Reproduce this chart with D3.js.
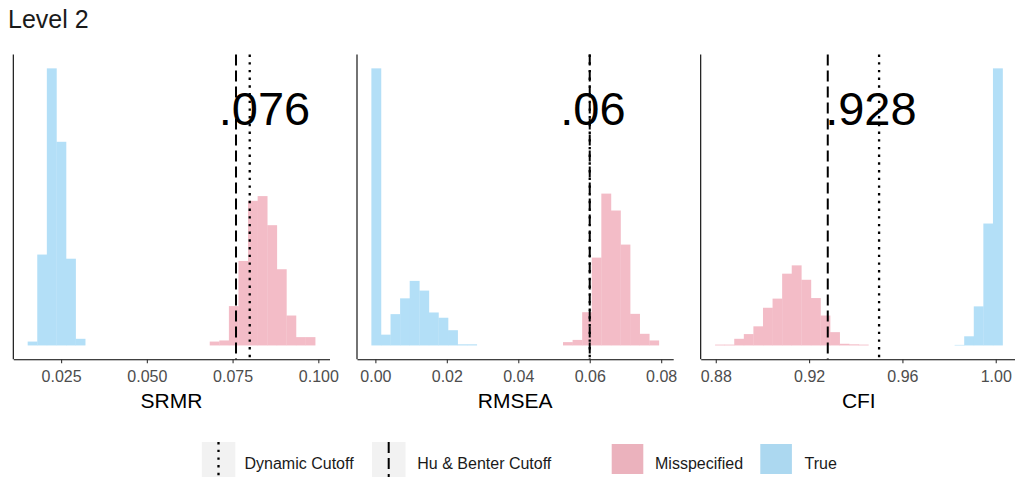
<!DOCTYPE html>
<html>
<head>
<meta charset="utf-8">
<script src="https://cdn.jsdelivr.net/npm/d3@7"></script>
<style>
  body { margin: 0; background: #fff; }
  svg { display: block; font-family: "Liberation Sans", Arial, sans-serif; }
</style>
</head>
<body>
<script>
// Histogramas de índices de ajuste (Level 2): 30 bins por panel
const panelNames = ["SRMR", "RMSEA", "CFI"];
const binStart = [0.01525, -0.00112, 0.8797];
const binWidth = [0.002794, 0.002682, 0.004107];

const srmrTrue = [14, 328, 1000, 735, 313, 24, 0, 0, 0, 0, 0, 0, 0, 0, 0,
  0, 0, 0, 0, 0, 0, 0, 0, 0, 0, 0, 0, 0, 0, 0];
const srmrMisspecified = [0, 0, 0, 0, 0, 0, 0, 0, 0, 0, 0, 0, 0, 0, 0,
  0, 0, 0, 0, 14, 18, 142, 305, 522, 539, 434, 275, 108, 30, 30];
const rmseaTrue = [1000, 39, 113, 170, 233, 198, 119, 100, 55, 4, 4, 0, 0, 0, 0,
  0, 0, 0, 0, 0, 0, 0, 0, 0, 0, 0, 0, 0, 0, 0];
const rmseaMisspecified = [0, 0, 0, 0, 0, 0, 0, 0, 0, 0, 0, 0, 0, 0, 0,
  0, 0, 0, 0, 0, 12, 20, 120, 317, 548, 487, 364, 114, 42, 18];
const cfiTrue = [0, 0, 0, 0, 0, 0, 0, 0, 0, 0, 0, 0, 0, 0, 0,
  0, 0, 0, 0, 0, 0, 0, 0, 0, 0, 2, 33, 141, 440, 1000];
const cfiMisspecified = [3, 3, 24, 41, 69, 136, 169, 259, 289, 237, 171, 108, 48, 6, 4,
  3, 0, 0, 0, 0, 0, 0, 0, 0, 0, 0, 0, 0, 0, 0];

const trueCounts = [srmrTrue, rmseaTrue, cfiTrue];
const misCounts = [srmrMisspecified, rmseaMisspecified, cfiMisspecified];

// cortes (dotted = "Dynamic Cutoff", dashed = "Hu & Benter Cutoff", como en la leyenda)
const dynamicCutoff = [0.08, 0.06, 0.95];
const huBenterCutoff = [0.076, 0.06, 0.928];
const cutoffLabels = [".076", ".06", ".928"];
const cutoffLabelX = [0.0843, 0.0609, 0.9465];

const tickValues = [
  [0.025, 0.050, 0.075, 0.100],
  [0.00, 0.02, 0.04, 0.06, 0.08],
  [0.88, 0.92, 0.96, 1.00]
];
const tickFormats = [d3.format(".3f"), d3.format(".2f"), d3.format(".2f")];

const legendLines = ["Dynamic Cutoff", "Hu & Benter Cutoff"];
const legendFills = ["Misspecified", "True"];

const COL_TRUE = "#b3dff7";
const COL_MIS = "#f3bcc7";
const KEY_TRUE = "#acd8f0";
const KEY_MIS = "#ebb2bd";
const DOTTED = "2.4,5.3";
const DASHED = "11,5";

const W = 1015, H = 477;
const plotTop = 54.5, plotBottom = 359.3;
const panelW = 316.2, panelStep = 343.7, firstLeft = 13.3;

const svg = d3.select("body").append("svg")
  .attr("width", W).attr("height", H);

svg.append("text")
  .attr("x", 8).attr("y", 28)
  .attr("font-size", 25).attr("fill", "#1a1a1a")
  .text("Level 2");

panelNames.forEach((name, p) => {
  const left = firstLeft + p * panelStep;
  const n = trueCounts[p].length;
  const lo = binStart[p], hi = binStart[p] + n * binWidth[p];
  const pad = (hi - lo) * 0.05;
  const x = d3.scaleLinear().domain([lo - pad, hi + pad]).range([left, left + panelW]);
  const maxCount = d3.max([...trueCounts[p], ...misCounts[p]]);
  const y = d3.scaleLinear().domain([-0.05 * maxCount, 1.05 * maxCount]).range([plotBottom, plotTop]);

  const g = svg.append("g").attr("class", "panel-" + name);

  // ── Bars ──
  const series = [
    { counts: misCounts[p], color: COL_MIS },
    { counts: trueCounts[p], color: COL_TRUE }
  ];
  for (const s of series) {
    const bins = s.counts.map((c, i) => ({
      x0: binStart[p] + i * binWidth[p],
      x1: binStart[p] + (i + 1) * binWidth[p],
      c
    })).filter(b => b.c > 0);
    g.append("g").selectAll("rect").data(bins).join("rect")
      .attr("x", b => x(b.x0))
      .attr("width", b => x(b.x1) - x(b.x0) + 0.3)
      .attr("y", b => y(b.c))
      .attr("height", b => y(0) - y(b.c))
      .attr("fill", s.color);
  }

  // ── Cutoff lines ──
  g.append("line")
    .attr("x1", x(huBenterCutoff[p])).attr("x2", x(huBenterCutoff[p]))
    .attr("y1", plotTop).attr("y2", plotBottom)
    .attr("stroke", "#000").attr("stroke-width", 2)
    .attr("stroke-dasharray", DASHED);
  g.append("line")
    .attr("x1", x(dynamicCutoff[p])).attr("x2", x(dynamicCutoff[p]))
    .attr("y1", plotTop).attr("y2", plotBottom)
    .attr("stroke", "#000").attr("stroke-width", 2.3)
    .attr("stroke-dasharray", DOTTED);

  g.append("text")
    .attr("x", x(cutoffLabelX[p])).attr("y", 125)
    .attr("text-anchor", "middle")
    .attr("font-size", 47).attr("fill", "#000")
    .text(cutoffLabels[p]);

  // ── Axes ──
  const ax = g.append("g")
    .attr("transform", `translate(0,${plotBottom})`)
    .call(d3.axisBottom(x).tickValues(tickValues[p]).tickFormat(tickFormats[p])
      .tickSize(4).tickSizeOuter(0).tickPadding(7));
  ax.select(".domain").attr("stroke", "#000").attr("stroke-width", 1.1);
  ax.selectAll(".tick line").attr("stroke", "#333").attr("stroke-width", 1.1);
  ax.selectAll(".tick text").attr("font-size", 16).attr("fill", "#4d4d4d")
    .attr("font-family", "Liberation Sans, Arial, sans-serif");

  g.append("line")
    .attr("x1", left).attr("x2", left)
    .attr("y1", plotTop).attr("y2", plotBottom)
    .attr("stroke", "#000").attr("stroke-width", 1.1);

  g.append("text")
    .attr("x", left + panelW / 2).attr("y", 407.5)
    .attr("text-anchor", "middle")
    .attr("font-size", 21).attr("fill", "#000")
    .text(name);
});

// ── Legend ──
const leg = svg.append("g").attr("class", "legend");
const lineKeys = [
  { label: legendLines[0], dash: DOTTED, w: 2.3, kx: 201.8, tx: 244.5 },
  { label: legendLines[1], dash: DASHED, w: 2, kx: 372, tx: 417.3 }
];
for (const k of lineKeys) {
  leg.append("rect")
    .attr("x", k.kx).attr("y", 442).attr("width", 33.5).attr("height", 42)
    .attr("fill", "#f2f2f2");
  leg.append("line")
    .attr("x1", k.kx + 16.7).attr("x2", k.kx + 16.7)
    .attr("y1", 442).attr("y2", 484)
    .attr("stroke", "#000").attr("stroke-width", k.w)
    .attr("stroke-dasharray", k.dash);
  leg.append("text")
    .attr("x", k.tx).attr("y", 469)
    .attr("font-size", 16).attr("fill", "#1a1a1a")
    .text(k.label);
}
const fillKeys = [
  { label: legendFills[0], color: KEY_MIS, kx: 611.7, tx: 655 },
  { label: legendFills[1], color: KEY_TRUE, kx: 760.3, tx: 804.5 }
];
for (const k of fillKeys) {
  leg.append("rect")
    .attr("x", k.kx).attr("y", 444).attr("width", 31.6).attr("height", 30)
    .attr("fill", k.color);
  leg.append("text")
    .attr("x", k.tx).attr("y", 469)
    .attr("font-size", 16).attr("fill", "#1a1a1a")
    .text(k.label);
}
</script>
</body>
</html>
